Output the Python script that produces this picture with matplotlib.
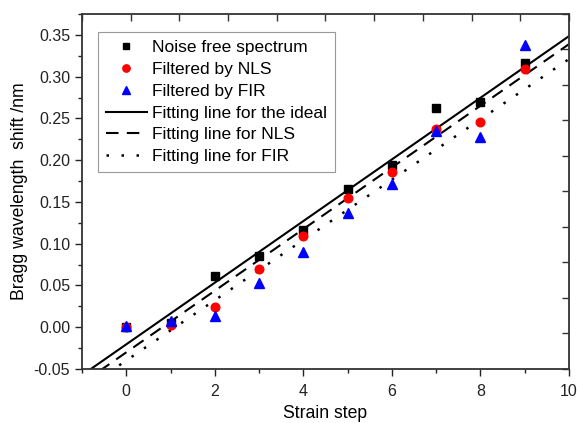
import numpy as np
import matplotlib
matplotlib.use("Agg")
import matplotlib.pyplot as plt
from matplotlib.ticker import MultipleLocator

plt.rcParams['font.family'] = ['Liberation Sans', 'DejaVu Sans']

steps = [0, 1, 2, 3, 4, 5, 6, 7, 8, 9]
noise_free = [0.000, 0.005, 0.061, 0.085, 0.116, 0.165, 0.194, 0.262, 0.270, 0.316]
nls = [0.000, 0.003, 0.024, 0.070, 0.109, 0.155, 0.186, 0.237, 0.246, 0.309]
fir = [0.001, 0.008, 0.013, 0.053, 0.090, 0.137, 0.172, 0.235, 0.228, 0.338]

# fitted lines: (slope, intercept)
fit_ideal = (0.0369, -0.0205)
fit_nls = (0.0369, -0.0301)
fit_fir = (0.0361, -0.0399)
fit_x = [-1, 10]

fig = plt.figure(figsize=(5.77, 4.23), dpi=100)
ax = fig.add_axes([0.1421, 0.1277, 0.8440, 0.8392])

ax.plot(steps, noise_free, 's', color='black', ms=5.5, label='Noise free spectrum', zorder=3)
ax.plot(steps, nls, 'o', color='red', ms=6.2, label='Filtered by NLS', zorder=3)
ax.plot(steps, fir, '^', color='blue', ms=6.8, label='Filtered by FIR', zorder=3)

xx = np.array(fit_x, dtype=float)
ax.plot(xx, fit_ideal[0] * xx + fit_ideal[1], '-', color='black', lw=1.5,
        label='Fitting line for the ideal')
ax.plot(xx, fit_nls[0] * xx + fit_nls[1], color='black', lw=1.5, dashes=(6, 4),
        label='Fitting line for NLS')
ax.plot(xx, fit_fir[0] * xx + fit_fir[1], color='black', lw=1.8, dashes=(1, 5),
        label='Fitting line for FIR')

ax.set_xlim(-1, 10)
ax.set_ylim(-0.05, 0.375)
ax.xaxis.set_major_locator(MultipleLocator(2))
ax.xaxis.set_minor_locator(MultipleLocator(1))
ax.yaxis.set_major_locator(MultipleLocator(0.05))
ax.yaxis.set_minor_locator(MultipleLocator(0.025))
ax.yaxis.set_major_formatter(plt.FuncFormatter(lambda v, p: f"{v:.2f}"))
ax.tick_params(which='both', direction='out', labelsize=11.5, colors='#222222')
ax.tick_params(which='major', length=5, width=1)
ax.tick_params(which='minor', length=3, width=1)
ax.tick_params(axis='x', pad=6)
for s in ax.spines.values():
    s.set_linewidth(1.3)
    s.set_color('#333333')

ax.set_xlabel('Strain step', fontsize=12.7, labelpad=4)
ax.set_ylabel('Bragg wavelength  shift /nm', fontsize=12.7, labelpad=4)

# top and right axes with ten plain divisions, ticks pointing inward
axt = ax.twiny()
axt.set_xlim(0, 10)
axt.set_xticks(range(11))
axt.set_xticklabels([])
axt.tick_params(direction='in', length=5, width=1, colors='#333333')
axr = ax.twinx()
axr.set_ylim(0, 10)
axr.set_yticks(range(11))
axr.set_yticklabels([])
axr.tick_params(direction='in', length=5, width=1, colors='#333333')
for a in (axt, axr):
    for s in a.spines.values():
        s.set_visible(False)

leg = ax.legend(loc='upper left', bbox_to_anchor=(0.033, 0.948), borderaxespad=0,
                fontsize=12.5, handlelength=2.35, handletextpad=0.33, labelspacing=0.38,
                borderpad=0.45, fancybox=False, edgecolor='#999999', framealpha=1,
                numpoints=1, markerscale=0.85)
leg.get_frame().set_linewidth(0.8)
leg.set_zorder(5)

fig.savefig('out.png', dpi=100)
